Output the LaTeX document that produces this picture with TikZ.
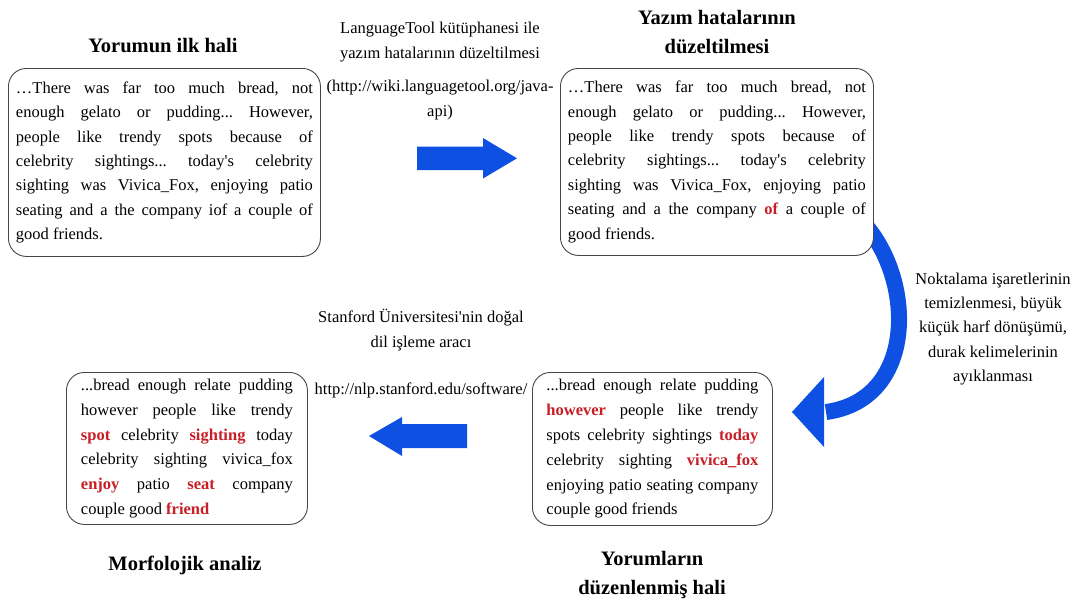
\documentclass[tikz,border=0pt]{standalone}
\usepackage{fontspec}
\setmainfont{LiberationSerif}[Extension=.ttf, UprightFont=*-Regular, BoldFont=*-Bold,
  ItalicFont=*-Italic, BoldItalicFont=*-BoldItalic]
\usetikzlibrary{backgrounds}
\definecolor{arrowblue}{RGB}{14,80,226}
\definecolor{wordred}{RGB}{200,30,38}
\definecolor{boxgray}{RGB}{70,70,70}
\newcommand{\redword}[1]{\textcolor{wordred}{\textbf{#1}}}
\frenchspacing

\begin{document}
\begin{tikzpicture}[x=1pt,y=-1pt,
  textbox/.style={draw=boxgray, line width=0.9pt, rounded corners=18pt, fill=white,
    align=justify, anchor=north west, inner ysep=0pt,
    execute at begin node={\tolerance=10000 \hyphenpenalty=10000 \frenchspacing }},
  topfont/.style={font=\fontsize{16.5}{24.4}\selectfont},
  lowfont/.style={font=\fontsize{16.5}{24.8}\selectfont},
  headline/.style={font=\fontsize{20.5}{29}\selectfont\bfseries, align=center, inner sep=0pt},
  note/.style={font=\fontsize{16.5}{24.4}\selectfont, align=center, inner sep=0pt},
  blockarrow/.style={fill=arrowblue},
]
\useasboundingbox (0,0) rectangle (1081,608);

% text boxes
\node[textbox, topfont, text width=297pt, inner xsep=7.5pt, minimum height=188pt] (orig) at (8,68)
 {…There was far too much bread, not\linebreak
  enough gelato or pudding... However,\linebreak
  people like trendy spots because of\linebreak
  celebrity sightings... today\textquotesingle s celebrity\linebreak
  sighting was Vivica\_Fox, enjoying patio\linebreak
  seating and a the company iof a couple of\linebreak
  good friends.};

\node[textbox, topfont, text width=298pt, inner xsep=7.5pt, minimum height=187pt] (fixed) at (560,68)
 {…There was far too much bread, not\linebreak
  enough gelato or pudding... However,\linebreak
  people like trendy spots because of\linebreak
  celebrity sightings... today\textquotesingle s celebrity\linebreak
  sighting was Vivica\_Fox, enjoying patio\linebreak
  seating and a the company \redword{of} a couple of\linebreak
  good friends.};

\node[textbox, lowfont, text width=212pt, inner xsep=14pt, minimum height=153pt] (clean) at (532,372)
 {...bread enough relate pudding\linebreak
  \redword{however} people like trendy\linebreak
  spots celebrity sightings \redword{today}\linebreak
  celebrity sighting \redword{vivica\_fox}\linebreak
  enjoying patio seating company\linebreak
  couple good friends};

\node[textbox, lowfont, text width=212pt, inner xsep=14.5pt, minimum height=152pt] (morph) at (66,372)
 {...bread enough relate pudding\linebreak
  however people like trendy\linebreak
  \redword{spot} celebrity \redword{sighting} today\linebreak
  celebrity sighting vivica\_fox\linebreak
  \redword{enjoy} patio \redword{seat} company\linebreak
  couple good \redword{friend}};

% headings
\node[headline] (h1) at (163,46) {Yorumun ilk hali};
\node[headline] (h2) at (717,32) {Yazım hatalarının\\düzeltilmesi};
\node[headline] (h3) at (652,575) {Yorumların\\düzenlenmiş hali};
\node[headline] (h4) at (185,565) {Morfolojik analiz};

% step descriptions
\node[note, font=\fontsize{16.5}{25}\selectfont] (n1) at (440,42)
  {LanguageTool kütüphanesi ile\\yazım hatalarının düzeltilmesi};
\node[note] (n1b) at (440,100) {(http://wiki.languagetool.org/java-\\api)};
\node[note] (n2) at (421,330) {Stanford Üniversitesi\textquotesingle nin doğal\\dil işleme aracı};
\node[note] (n2b) at (421,390) {http://nlp.stanford.edu/software/};
\node[note] (n3) at (993,329)
  {Noktalama işaretlerinin\\temizlenmesi, büyük\\küçük harf dönüşümü,\\durak kelimelerinin\\ayıklanması};

% straight block arrows
\fill[blockarrow] (417,146.5) -- (483,146.5) -- (483,138) -- (517,158.3)
  -- (483,178.5) -- (483,170) -- (417,170) -- cycle;
\fill[blockarrow] (467,424) -- (402,424) -- (402,417) -- (369,436)
  -- (402,456) -- (402,448) -- (467,448) -- cycle;

% curved arrow from the corrected text down to the cleaned text
\coordinate (cstart) at ([xshift=-7pt,yshift=29pt]fixed.south east);
\coordinate (cend) at (826,412);
\coordinate (ctip) at (792,412);
\begin{pgfonlayer}{background}
  \draw[arrowblue, line width=16pt] (cstart) .. controls (915,285) and (915,400) .. (cend);
\end{pgfonlayer}
\fill[blockarrow] (ctip) -- (824,377) -- (824,447) -- cycle;
\end{tikzpicture}
\end{document}
